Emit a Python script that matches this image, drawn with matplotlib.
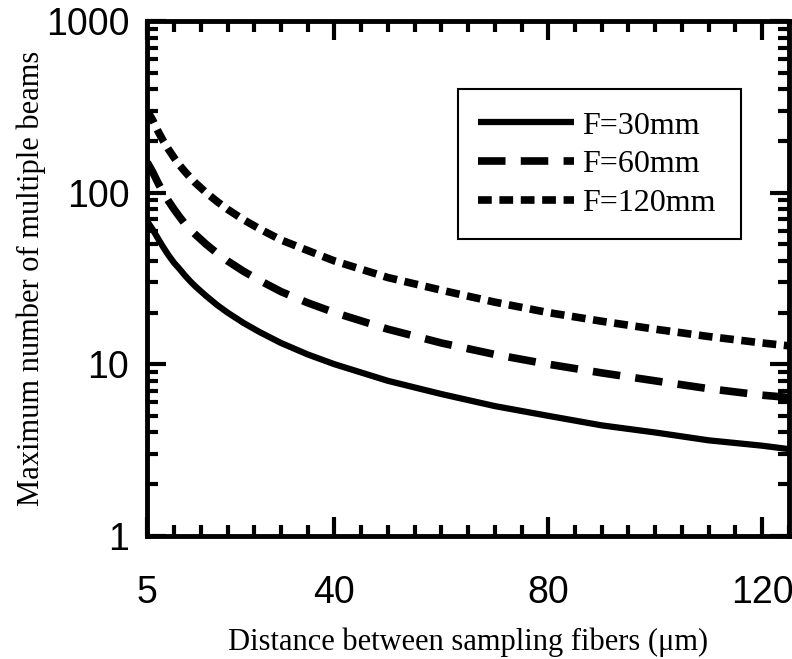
import matplotlib.pyplot as plt
from matplotlib.patches import Rectangle
from matplotlib.ticker import FixedLocator, MultipleLocator, NullFormatter

# distance between sampling fibers (um)
distance = [5, 6, 7, 8, 9, 10, 11, 12, 13, 14, 16, 18, 20, 23, 26, 30, 35, 40, 50,
            60, 70, 80, 90, 100, 110, 120, 125]

# maximum number of multiple beams
beams_f30 = [68, 61, 54, 48, 43, 39, 36, 33, 30.5, 28.4, 25, 22.2, 20, 17.4, 15.4,
             13.3, 11.4, 10, 8.0, 6.7, 5.7, 5.0, 4.4, 4.0, 3.6, 3.35, 3.2]
beams_f60 = [150, 132, 114, 100, 89, 80, 72.5, 66, 61, 57, 50, 44.5, 40, 34.8, 30.8,
             26.5, 22.8, 20, 16, 13.3, 11.4, 10, 8.9, 8.0, 7.2, 6.6, 6.4]
beams_f120 = [300, 265, 228, 200, 178, 160, 145, 133, 123, 114, 100, 89, 80, 69.5, 61.5,
              53, 46, 40, 32, 27, 23, 20, 17.8, 16, 14.5, 13.3, 12.8]

labels = ["F=30mm", "F=60mm", "F=120mm"]
x_ticks = [5, 40, 80, 120]

serif = "Liberation Serif"
sans = "Liberation Sans"

fig = plt.figure(figsize=(7.92, 6.59), dpi=100)
ax = fig.add_axes([0.186, 0.187, 0.810, 0.781])

ax.plot(distance, beams_f30, color="black", linewidth=4.5, solid_capstyle="butt", label=labels[0])
ax.plot(distance, beams_f60, color="black", linewidth=5.5, dashes=(3.6, 2.0),
        dash_capstyle="butt", label=labels[1])
ax.plot(distance, beams_f120, color="black", linewidth=5.5, dashes=(1.8, 1.0),
        dash_capstyle="butt", label=labels[2])

ax.set_yscale("log")
ax.set_xlim(5, 125)
ax.set_ylim(1, 1000)

ax.xaxis.set_major_locator(FixedLocator(x_ticks))
ax.xaxis.set_minor_locator(MultipleLocator(5))
ax.set_yticks([1, 10, 100, 1000])
ax.set_yticklabels(["1", "10", "100", "1000"])
ax.yaxis.set_minor_formatter(NullFormatter())

ax.tick_params(which="both", direction="in", top=True, right=True, width=3, color="black")
ax.tick_params(which="major", length=14)
ax.tick_params(which="minor", length=8)
ax.tick_params(axis="x", which="major", pad=28, labelsize=27)
ax.tick_params(axis="y", which="major", pad=13, labelsize=27)
for lab in ax.get_xticklabels() + ax.get_yticklabels():
    lab.set_fontfamily(sans)

for side in ax.spines.values():
    side.set_linewidth(3.5)

ax.set_xlabel("Distance between sampling fibers (\u03bcm)", fontsize=22, family=serif, labelpad=12)
ax.set_ylabel("Maximum number of multiple beams", fontsize=22, family=serif, labelpad=0)

# legend box drawn by hand (the original has extra room below the last entry)
ax.add_patch(Rectangle((0.484, 0.577), 0.442, 0.291, transform=ax.transAxes,
                       facecolor="white", edgecolor="black", linewidth=1.5, zorder=4))
leg = ax.legend(loc="upper left", bbox_to_anchor=(0.5156, 0.825), borderaxespad=0,
                prop={"family": serif, "size": 23}, frameon=False,
                handlelength=3.0, handletextpad=0.25, labelspacing=0.3, borderpad=0)
leg.set_zorder(5)

fig.savefig("out.png", dpi=100)
